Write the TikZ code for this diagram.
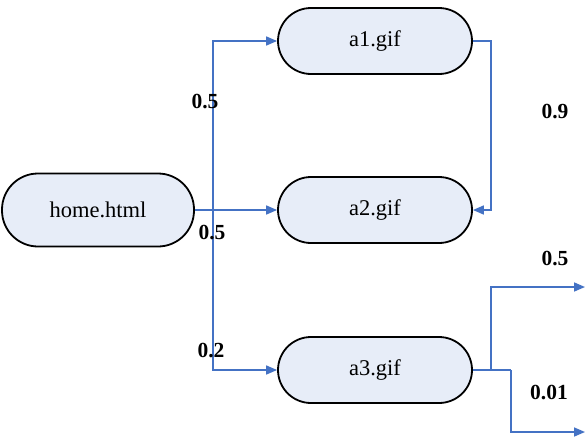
\documentclass[tikz,border=0pt]{standalone}
\usepackage{fontspec}
\setmainfont{Liberation Serif}
\usetikzlibrary{arrows.meta}
\definecolor{nodefill}{HTML}{E7EDF8}
\definecolor{linkblue}{HTML}{4472C4}
\begin{document}
\begin{tikzpicture}[x=1pt,y=-1pt,
  page/.style={draw=black,line width=1.8pt,fill=nodefill,rounded corners=33pt,
    minimum height=66pt,minimum width=194pt,inner sep=0pt,
    font=\fontsize{22.5}{27}\selectfont},
  link/.style={draw=linkblue,line width=1.6pt,-{Triangle[length=11pt,width=9pt]}},
  plain/.style={draw=linkblue,line width=1.6pt},
  prob/.style={font=\fontsize{21.5}{25}\selectfont\bfseries,inner sep=0pt}]
\useasboundingbox (0,0) rectangle (585,439);
\node[page,minimum width=192pt,minimum height=73pt,rounded corners=36pt] (home) at (98,210) {home.html};
\node[page] (a1) at (375,41) {a1.gif};
\node[page] (a2) at (375,210) {a2.gif};
\node[page] (a3) at (375,370) {a3.gif};
\coordinate (t) at (213,210);
\coordinate (b) at (491,370);
\coordinate (c) at (511,370);
\coordinate (r) at (491,41);
\coordinate (out1) at (585,287);
\coordinate (out2) at (585,432);
\draw[link] (home.east) -- (a2.west);
\draw[link] (t) |- (a1.west);
\draw[link] (t) |- (a3.west);
\draw[link] (a1.east) -- (r) |- (a2.east);
\draw[plain] (a3.east) -- (c);
\draw[link] (b) |- (out1);
\draw[link] (c) |- (out2);
\node[prob] (p1) at (205,102) {0.5};
\node[prob] (p2) at (212,232) {0.5};
\node[prob] (p3) at (211,350) {0.2};
\node[prob] (p4) at (555,112) {0.9};
\node[prob] (p5) at (555,258) {0.5};
\node[prob] (p6) at (549,392) {0.01};
\end{tikzpicture}
\end{document}
